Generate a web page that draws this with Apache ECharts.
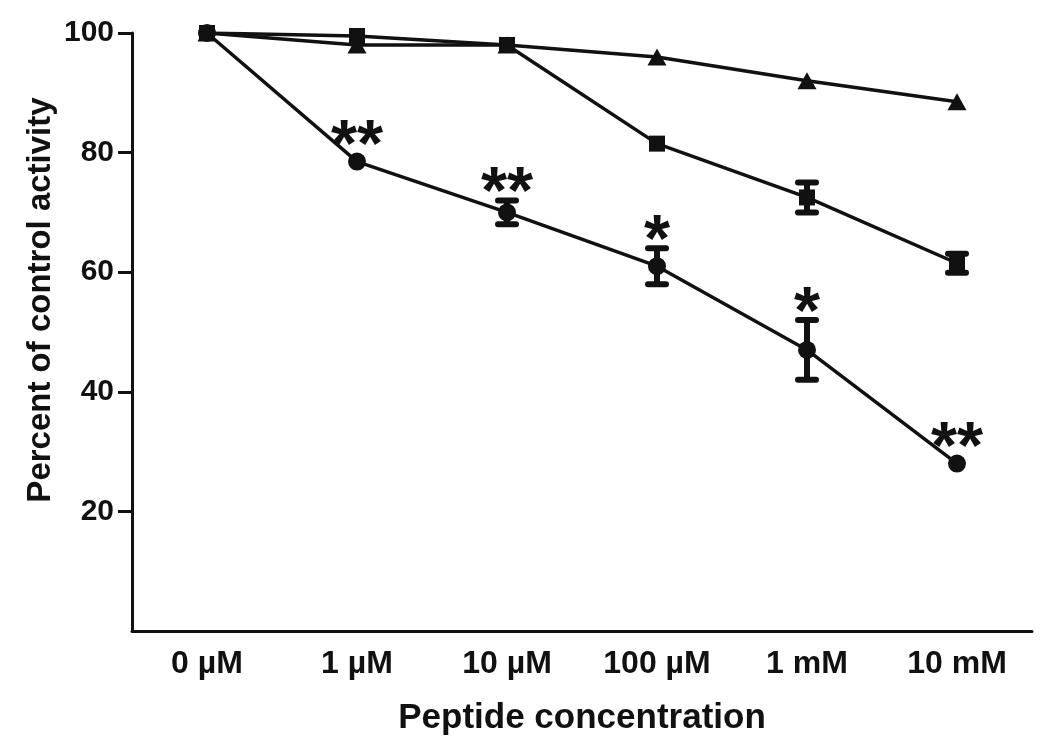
<!DOCTYPE html>
<html>
<head>
<meta charset="utf-8">
<script src="https://cdn.jsdelivr.net/npm/echarts@6/dist/echarts.min.js"></script>
<style>html,body{margin:0;padding:0;background:#fff}#c{width:1050px;height:745px}</style>
</head>
<body>
<div id="c"></div>
<script>
const categories = ['0 µM', '1 µM', '10 µM', '100 µM', '1 mM', '10 mM'];
const yTicks = [20, 40, 60, 80, 100];
const triangleVals = [100, 98, 98, 96, 92, 88.5];
const squareVals = [100, 99.5, 98, 81.5, 72.5, 61.5];
const squareErr = [0, 0, 0, 0, 2.5, 1.6];
const circleVals = [100, 78.5, 70, 61, 47, 28];
const circleErr = [0, 0, 2, 3, 5, 0];
const circleSig = ['', '**', '**', '*', '*', '**'];
const xTitle = 'Peptide concentration';
const yTitle = 'Percent of control activity';

const INK = '#111';
const FONT = '"Liberation Sans", Arial, Helvetica, sans-serif';

function errData(vals, errs) {
  return vals.map((v, i) => [i, v, errs[i]]).filter(d => d[2] > 0);
}

function errRender(params, api) {
  const x = api.value(0), m = api.value(1), e = api.value(2);
  const top = api.coord([x, m + e]);
  const bot = api.coord([x, m - e]);
  const capW = 24, capH = 6;
  return {
    type: 'group',
    children: [
      { type: 'line', shape: { x1: top[0], y1: top[1], x2: bot[0], y2: bot[1] },
        style: { stroke: INK, lineWidth: 6 } },
      { type: 'rect', shape: { x: top[0] - capW / 2, y: top[1] - capH / 2, width: capW, height: capH, r: 3 },
        style: { fill: INK } },
      { type: 'rect', shape: { x: bot[0] - capW / 2, y: bot[1] - capH / 2, width: capW, height: capH, r: 3 },
        style: { fill: INK } }
    ]
  };
}

const sigData = circleVals.map((v, i) => [i, v, circleErr[i], circleSig[i]]).filter(d => d[3]);

function sigRender(params, api) {
  const x = api.value(0), m = api.value(1), e = api.value(2);
  const p = api.coord([x, m + e]);
  const d = sigData[params.dataIndex];
  const gap = e > 0 ? 21 : 29;
  return {
    type: 'text',
    x: p[0], y: p[1] - gap + 15,
    style: { text: d[3], fill: INK, font: 'bold 67px ' + FONT, align: 'center', verticalAlign: 'middle' }
  };
}

const chart = echarts.init(document.getElementById('c'), null, { renderer: 'canvas' });
chart.setOption({
  backgroundColor: '#fff',
  animation: false,
  grid: { left: 132, right: 18, top: 33, bottom: 114 },
  xAxis: {
    type: 'category',
    data: categories,
    boundaryGap: true,
    axisLine: { lineStyle: { color: INK, width: 3 } },
    axisTick: { alignWithLabel: true, length: 14, lineStyle: { color: INK, width: 3 } },
    axisLabel: { color: INK, fontFamily: FONT, fontWeight: 'bold', fontSize: 32, margin: 17 },
    name: xTitle,
    nameLocation: 'middle',
    nameGap: 70,
    nameTextStyle: { color: INK, fontFamily: FONT, fontWeight: 'bold', fontSize: 35 }
  },
  yAxis: {
    type: 'value',
    min: 0, max: 100, interval: 20,
    splitLine: { show: false },
    axisLine: { show: true, lineStyle: { color: INK, width: 3 } },
    axisTick: { show: true, length: 14, lineStyle: { color: INK, width: 3 }, customValues: yTicks },
    axisLabel: { color: INK, fontFamily: FONT, fontWeight: 'bold', fontSize: 30, margin: 18, customValues: yTicks }
  },
  graphic: [{
    type: 'text',
    x: 41, y: 300,
    rotation: Math.PI / 2,
    style: { text: yTitle, fill: INK, font: 'bold 33px ' + FONT, align: 'center', verticalAlign: 'middle' }
  }],
  series: [
    { type: 'line', data: triangleVals, symbol: 'triangle', symbolSize: [19, 17],
      lineStyle: { color: INK, width: 3.5 }, itemStyle: { color: INK }, z: 3 },
    { type: 'line', data: squareVals, symbol: 'rect', symbolSize: 16,
      lineStyle: { color: INK, width: 3.5 }, itemStyle: { color: INK }, z: 4 },
    { type: 'line', data: circleVals, symbol: 'circle', symbolSize: 18,
      lineStyle: { color: INK, width: 3.5 }, itemStyle: { color: INK }, z: 4 },
    { type: 'custom', data: errData(squareVals, squareErr), renderItem: errRender, z: 5, silent: true },
    { type: 'custom', data: errData(circleVals, circleErr), renderItem: errRender, z: 5, silent: true },
    { type: 'custom', data: sigData.map(d => [d[0], d[1], d[2]]), renderItem: sigRender, z: 6, silent: true }
  ]
});
</script>
</body>
</html>
